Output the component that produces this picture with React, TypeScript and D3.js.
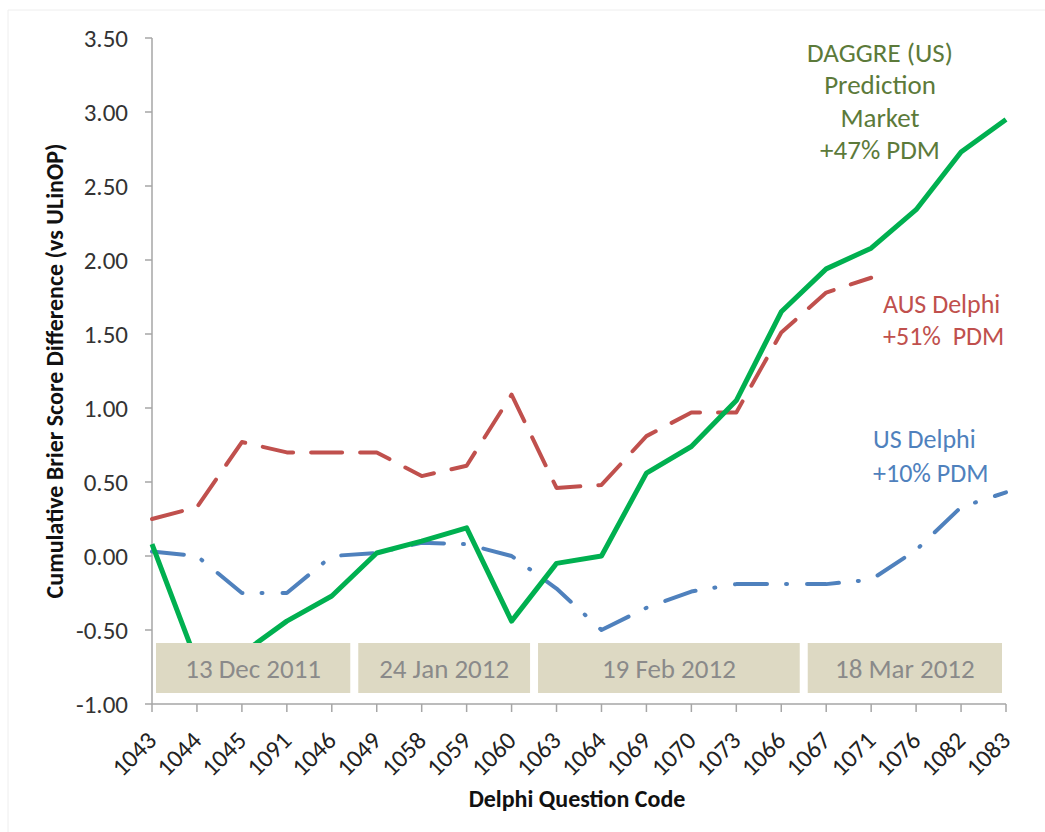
import * as d3 from 'd3';

const codes = ['1043', '1044', '1045', '1091', '1046', '1049', '1058', '1059', '1060', '1063',
  '1064', '1069', '1070', '1073', '1066', '1067', '1071', '1076', '1082', '1083'];

const daggre = [0.08, -0.72, -0.66, -0.44, -0.27, 0.02, 0.10, 0.19, -0.44, -0.05,
  0.00, 0.56, 0.74, 1.05, 1.65, 1.94, 2.08, 2.34, 2.73, 2.95];

const ausDelphi: (number | null)[] = [0.25, 0.33, 0.77, 0.70, 0.70, 0.70, 0.54, 0.61, 1.09, 0.46,
  0.48, 0.81, 0.97, 0.97, 1.51, 1.78, 1.88, null, null, null];

const usDelphi = [0.03, 0.00, -0.25, -0.25, 0.00, 0.02, 0.09, 0.08, 0.00, -0.22,
  -0.50, -0.35, -0.24, -0.19, -0.19, -0.19, -0.16, 0.04, 0.33, 0.43];

const yTicks = [-1, -0.5, 0, 0.5, 1, 1.5, 2, 2.5, 3, 3.5];

const periods = [
  { label: '13 Dec 2011', from: '1043', to: '1046' },
  { label: '24 Jan 2012', from: '1049', to: '1060' },
  { label: '19 Feb 2012', from: '1063', to: '1066' },
  { label: '18 Mar 2012', from: '1067', to: '1083' },
];

const FONT = 'Carlito, Calibri, Lato, sans-serif';

export default function App() {
  const width = 1045;
  const height = 832;
  const left = 152, right = 1006, top = 38, bottom = 704;

  const x = d3.scalePoint<string>().domain(codes).range([left, right]);
  const y = d3.scaleLinear().domain([-1, 3.5]).range([bottom, top]);
  const step = x.step();

  const line = d3.line<number | null>()
    .defined(d => d !== null)
    .x((_, i) => x(codes[i]) as number)
    .y(d => y(d as number));

  const fmt = (v: number) => d3.format('.2f')(v).replace('\u2212', '-');

  return (
    <svg width={width} height={height} style={{ position: 'absolute', left: 0, top: 0, background: '#fff' }}
      fontFamily={FONT}>
      <line x1={8} y1={10} x2={8} y2={832} stroke="#eeeeee" />
      <line x1={8} y1={10} x2={1045} y2={10} stroke="#eeeeee" />

      {/* y axis */}
      <line x1={left} x2={left} y1={top} y2={bottom} stroke="#a6a6a6" strokeWidth={1.5} />
      {yTicks.map(t => (
        <g key={t}>
          <line x1={left - 7} x2={left} y1={y(t)} y2={y(t)} stroke="#a6a6a6" strokeWidth={1.5} />
          <text x={128} y={y(t)} dy="0.36em" textAnchor="end" fontSize={25} fill="#333">{fmt(t)}</text>
        </g>
      ))}
      <text transform={`translate(57,371) rotate(-90)`} textAnchor="middle" dominantBaseline="middle"
        fontSize={24} fontWeight="bold" fill="#111">
        Cumulative Brier Score Difference (vs ULinOP)
      </text>

      {/* x axis */}
      <line x1={left} x2={right} y1={bottom} y2={bottom} stroke="#a6a6a6" strokeWidth={1.5} />
      {codes.map(c => (
        <g key={c}>
          <line x1={x(c)} x2={x(c)} y1={bottom} y2={bottom + 8} stroke="#a6a6a6" strokeWidth={1.5} />
          <text transform={`translate(${(x(c) as number) + 6},742) rotate(-45)`} textAnchor="end"
            fontSize={25} fill="#222">{c}</text>
        </g>
      ))}
      <text x={577} y={807} textAnchor="middle" fontSize={24} fontWeight="bold" fill="#111">
        Delphi Question Code
      </text>

      {/* series */}
      <path d={line(usDelphi) || ''} fill="none" stroke="#4f81bd" strokeWidth={4}
        strokeDasharray="32 19 1 20" strokeLinecap="round" strokeLinejoin="round" />
      <path d={line(ausDelphi) || ''} fill="none" stroke="#c0504d" strokeWidth={4}
        strokeDasharray="31 18" strokeLinecap="round" strokeLinejoin="round" />
      <path d={line(daggre) || ''} fill="none" stroke="#00b050" strokeWidth={5}
        strokeLinejoin="round" />

      {/* period boxes */}
      {periods.map(p => {
        const x0 = Math.max(left, (x(p.from) as number) - step / 2) + 4;
        const x1 = Math.min(right, (x(p.to) as number) + step / 2) - 4;
        return (
          <g key={p.label}>
            <rect x={x0} y={bottom - 61} width={x1 - x0} height={50} fill="#ddd9c3" />
            <text x={(x0 + x1) / 2} y={bottom - 26} textAnchor="middle" fontSize={27} fill="#8a8a8a">{p.label}</text>
          </g>
        );
      })}

      {/* annotations */}
      <g fill="#5c7a3a" fontSize={27} textAnchor="middle">
        <text x={880} y={62}>DAGGRE (US)</text>
        <text x={880} y={94}>Prediction</text>
        <text x={880} y={127}>Market</text>
        <text x={880} y={159}>+47% PDM</text>
      </g>
      <g fill="#c0504d" fontSize={26}>
        <text x={883} y={313}>AUS Delphi</text>
        <text x={883} y={345} style={{ whiteSpace: 'pre' }}>{'+51%  PDM'}</text>
      </g>
      <g fill="#4f81bd" fontSize={26}>
        <text x={873} y={448}>US Delphi</text>
        <text x={873} y={482}>+10% PDM</text>
      </g>
    </svg>
  );
}
